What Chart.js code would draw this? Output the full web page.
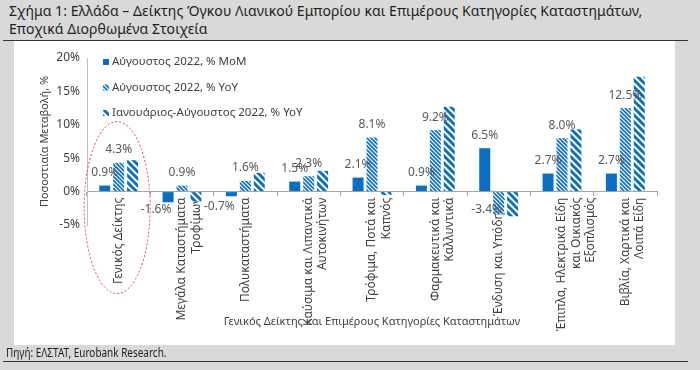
<!DOCTYPE html>
<html>
<head>
<meta charset="utf-8">
<script src="https://cdn.jsdelivr.net/npm/chart.js@4/dist/chart.umd.min.js"></script>
<style>
  html, body { margin: 0; padding: 0; }
  body { width: 700px; height: 370px; background: #d9d9d9; position: relative; overflow: hidden; font-family: "Noto Sans", sans-serif; }
  #title { position: absolute; left: 9px; top: 2px; font-size: 14px; letter-spacing: 0.05px; line-height: 18px; color: #1e1e1e; white-space: nowrap; }
  #rule1 { position: absolute; left: 3px; top: 40px; width: 685px; height: 1px; background: #333; }
  #panel { position: absolute; left: 14px; top: 41px; width: 661px; height: 304px; background: #fff; }
  #src { position: absolute; left: 6px; top: 345px; font-size: 12px; line-height: 16px; color: #1e1e1e; white-space: nowrap; transform: scaleX(0.83); transform-origin: 0 0; }
  #rule2 { position: absolute; left: 3px; top: 361px; width: 685px; height: 1px; background: #333; }
</style>
</head>
<body>
<div id="title">Σχήμα 1: Ελλάδα – Δείκτης Όγκου Λιανικού Εμπορίου και Επιμέρους Κατηγορίες Καταστημάτων,<br>Εποχικά Διορθωμένα Στοιχεία</div>
<div id="rule1"></div>
<div id="panel"><canvas id="c" width="661" height="304"></canvas></div>
<div id="src">Πηγή: ΕΛΣΤΑΤ, Eurobank Research.</div>
<div id="rule2"></div>
<script>
// ---- Data ----
const categories = [
  ["Γενικός Δείκτης"],
  ["Μεγάλα Καταστήματα", "Τροφίμων"],
  ["Πολυκαταστήματα"],
  ["Καύσιμα και Λιπαντικά", "Αυτοκινήτων"],
  ["Τρόφιμα, Ποτά και", "Καπνός"],
  ["Φαρμακευτικά και", "Καλλυντικά"],
  ["Ένδυση και Υπόδηση"],
  ["Έπιπλα, Ηλεκτρικά Είδη", "και Οικιακός", "Εξοπλισμός"],
  ["Βιβλία, Χαρτικά και", "Λοιπά Είδη"]
];
const seriesNames = ["Αύγουστος 2022, % MoM", "Αύγουστος 2022, % YoY", "Ιανουάριος-Αύγουστος 2022, % YoY"];
const momAug = [0.9, -1.6, -0.7, 1.5, 2.1, 0.9, 6.5, 2.7, 2.7];
const yoyAug = [4.3, 0.9, 1.6, 2.3, 8.1, 9.2, -3.4, 8.0, 12.5];
const yoyJanAug = [4.7, -1.5, 2.8, 3.1, -0.5, 12.7, -3.7, 9.3, 17.2];
const yAxisTitle = "Ποσοστιαία Μεταβολή, %";
const xAxisTitle = "Γενικός Δείκτης και Επιμέρους Κατηγορίες Καταστημάτων";

// ---- Styles ----
const BLUE = "#0a6fc2";
const FONT = "'Noto Sans', sans-serif";
const TXT = "#404040";

function stripePattern(size, lw) {
  const c = document.createElement("canvas");
  c.width = size; c.height = size;
  const g = c.getContext("2d");
  g.fillStyle = "#fff"; g.fillRect(0, 0, size, size);
  g.strokeStyle = BLUE; g.lineWidth = lw;
  for (let k = -1; k <= 1; k++) {
    g.beginPath();
    g.moveTo(k * size - 1, -1);
    g.lineTo(k * size + size + 1, size + 1);
    g.stroke();
  }
  const ctx = document.getElementById("c").getContext("2d");
  return ctx.createPattern(c, "repeat");
}
const fineHatch = stripePattern(4, 1.6);
const wideHatch = stripePattern(7, 3);

const fills = [BLUE, fineHatch, wideHatch];

const barLabels = {
  id: "barLabels",
  afterDatasetsDraw(chart) {
    const ctx = chart.ctx;
    const zero = chart.scales.y.getPixelForValue(0);
    ctx.save();
    ctx.font = "12px " + FONT;
    ctx.fillStyle = "#595959";
    ctx.textAlign = "center";
    ctx.textBaseline = "middle";
    [0, 1].forEach(di => {
      const meta = chart.getDatasetMeta(di);
      const data = chart.data.datasets[di].data;
      meta.data.forEach((el, i) => {
        const v = data[i];
        const txt = v.toFixed(1) + "%";
        if (v >= 0) ctx.fillText(txt, el.x, el.y - 13);
        else ctx.fillText(txt, el.x - 12, Math.min(el.y + 10, zero + 18));
      });
    });
    ctx.restore();
  }
};

const extras = {
  id: "extras",
  afterDraw(chart) {
    const ctx = chart.ctx;
    const a = chart.chartArea;
    // legend
    ctx.save();
    ctx.font = "11.5px " + FONT;
    ctx.textBaseline = "middle";
    ctx.textAlign = "left";
    seriesNames.forEach((name, i) => {
      const y = a.top + 4 + i * 25.5;
      ctx.fillStyle = fills[i];
      ctx.fillRect(a.left + 16, y - 3, 6, 6);
      ctx.fillStyle = TXT;
      ctx.fillText(name, a.left + 25, y);
    });
    // x-axis title
    ctx.textAlign = "center";
    ctx.font = "11px " + FONT;
    ctx.fillText(xAxisTitle, (a.left + a.right) / 2, 281);
    // red dashed ellipse around first category
    const xs = chart.scales.x, ys = chart.scales.y;
    const cx = xs.getPixelForValue(0) - 1.5;
    const cy = ys.getPixelForValue(0) + 16;
    ctx.strokeStyle = "#e0403a";
    ctx.lineWidth = 1;
    ctx.setLineDash([2, 2]);
    ctx.beginPath();
    ctx.ellipse(cx, cy, 33, 86, 0, 0, Math.PI * 2);
    ctx.stroke();
    ctx.restore();
  }
};

new Chart(document.getElementById("c"), {
  type: "bar",
  data: {
    labels: categories,
    datasets: [
      { label: seriesNames[0], data: momAug, backgroundColor: fills[0] },
      { label: seriesNames[1], data: yoyAug, backgroundColor: fills[1] },
      { label: seriesNames[2], data: yoyJanAug, backgroundColor: fills[2] }
    ]
  },
  options: {
    responsive: false,
    animation: false,
    devicePixelRatio: 1,
    layout: { padding: { left: 20, top: 17, right: 18, bottom: 120 } },
    datasets: { bar: { categoryPercentage: 0.66, barPercentage: 0.79 } },
    plugins: { legend: { display: false }, tooltip: { enabled: false } },
    scales: {
      x: {
        position: { y: 0 },
        grid: { display: true, drawOnChartArea: false, drawTicks: true, tickLength: 4, color: "#a6a6a6", offset: true },
        border: { display: true, color: "#a6a6a6" },
        ticks: { autoSkip: false, maxRotation: 90, minRotation: 90, padding: 2, color: TXT, font: { family: FONT, size: 12 } }
      },
      y: {
        min: -5, max: 20,
        afterFit(s) { s.width = 53; },
        grid: { display: true, drawOnChartArea: false, drawTicks: false },
        border: { display: true, color: "#bfbfbf" },
        ticks: { stepSize: 5, padding: 7, color: TXT, font: { family: FONT, size: 12 }, callback: v => v + "%" },
        title: { display: true, text: yAxisTitle, color: TXT, font: { family: FONT, size: 11 }, padding: { top: 4, bottom: 0 } }
      }
    }
  },
  plugins: [barLabels, extras]
});
</script>
</body>
</html>
